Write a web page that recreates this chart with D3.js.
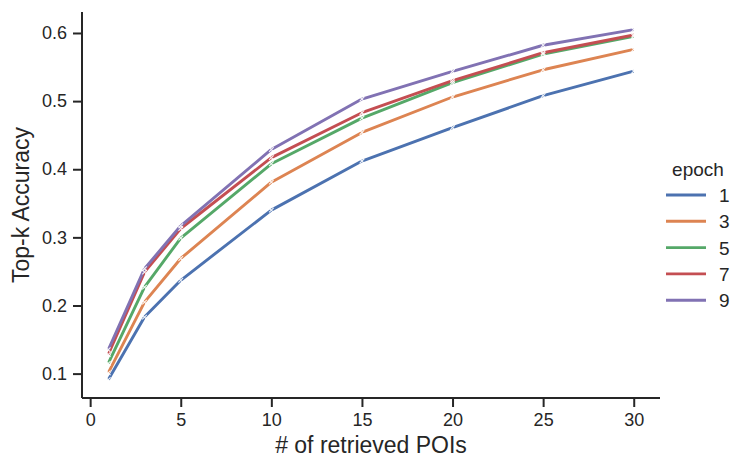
<!DOCTYPE html>
<html><head><meta charset="utf-8">
<script src="https://cdn.jsdelivr.net/npm/d3@7"></script>
<style>body{margin:0;background:#fff}svg{display:block;font-family:"Liberation Sans",Arial,sans-serif}</style>
</head><body><svg id="c" width="747" height="472"></svg>
<script>
const kValues = [1, 3, 5, 10, 15, 20, 25, 30];
const epochs = ["1", "3", "5", "7", "9"];
const epoch1 = [0.091, 0.183, 0.237, 0.340, 0.412, 0.461, 0.508, 0.544];
const epoch3 = [0.101, 0.205, 0.269, 0.381, 0.454, 0.506, 0.546, 0.576];
const epoch5 = [0.115, 0.227, 0.299, 0.408, 0.475, 0.527, 0.569, 0.595];
const epoch7 = [0.128, 0.249, 0.313, 0.417, 0.483, 0.530, 0.571, 0.597];
const epoch9 = [0.135, 0.254, 0.317, 0.429, 0.503, 0.5435, 0.582, 0.605];
const xTicks = [0, 5, 10, 15, 20, 25, 30];
const yTicks = [0.1, 0.2, 0.3, 0.4, 0.5, 0.6];
const colors = ["#4c72b0", "#dd8452", "#55a868", "#c44e52", "#8172b3"];
const seriesValues = [epoch1, epoch3, epoch5, epoch7, epoch9];

const svg = d3.select("#c");
const L = 82, R = 660, T = 12, B = 398;
const x = d3.scaleLinear().domain([-0.45, 31.45]).range([L, R]);
const y = d3.scaleLinear().domain([0.0642, 0.6308]).range([B, T]);

const ink = "#262626";
const gx = svg.append("g").attr("transform", `translate(0,${B})`)
  .call(d3.axisBottom(x).tickValues(xTicks).tickFormat(d3.format("d")).tickSize(9).tickPadding(6).tickSizeOuter(0));
const gy = svg.append("g").attr("transform", `translate(${L},0)`)
  .call(d3.axisLeft(y).tickValues(yTicks).tickFormat(d3.format(".1f")).tickSize(9).tickPadding(6).tickSizeOuter(0));
[gx, gy].forEach(g => {
  g.select(".domain").attr("stroke", ink).attr("stroke-width", 2);
  g.selectAll(".tick line").attr("stroke", ink).attr("stroke-width", 2);
  g.selectAll(".tick text").attr("fill", ink).style("font-size", "18px").style("font-family", '"Liberation Sans",Arial,sans-serif');
});
gx.select(".domain").attr("d", `M${L},0H${R}`);
gy.select(".domain").attr("d", `M0,${T}V${B}`);

const line = d3.line().x((d, i) => x(kValues[i])).y(d => y(d));
seriesValues.forEach((vals, s) => {
  svg.append("path").datum(vals).attr("d", line)
    .attr("fill", "none").attr("stroke", colors[s]).attr("stroke-width", 2.9)
    .attr("stroke-linejoin", "round").attr("stroke-linecap", "butt");
});
seriesValues.forEach((vals, s) => {
  svg.append("g").selectAll("path").data(vals).join("path")
    .attr("d", (d, i) => {
      const cx = x(kValues[i]), cy = y(d), r = 2.3;
      return `M${cx - r},${cy - r}L${cx + r},${cy + r}M${cx - r},${cy + r}L${cx + r},${cy - r}`;
    })
    .attr("stroke", "#ffffff").attr("stroke-width", 1.1).attr("opacity", 0.9);
});

svg.append("text").attr("x", (L + R) / 2).attr("y", 453).attr("text-anchor", "middle")
  .attr("fill", ink).style("font-size", "23px").text("# of retrieved POIs");
svg.append("text").attr("transform", `translate(29,${(T + B) / 2}) rotate(-90)`).attr("text-anchor", "middle")
  .attr("fill", ink).style("font-size", "23px").text("Top-k Accuracy");

const lg = svg.append("g");
lg.append("text").attr("x", 698).attr("y", 176).attr("text-anchor", "middle")
  .attr("fill", ink).style("font-size", "19px").text("epoch");
epochs.forEach((e, i) => {
  const ly = 195 + i * 26.3;
  lg.append("line").attr("x1", 666).attr("x2", 706).attr("y1", ly).attr("y2", ly)
    .attr("stroke", colors[i]).attr("stroke-width", 2.9);
  lg.append("text").attr("x", 719).attr("y", ly + 7).attr("fill", ink)
    .style("font-size", "19px").text(e);
});
</script></body></html>
